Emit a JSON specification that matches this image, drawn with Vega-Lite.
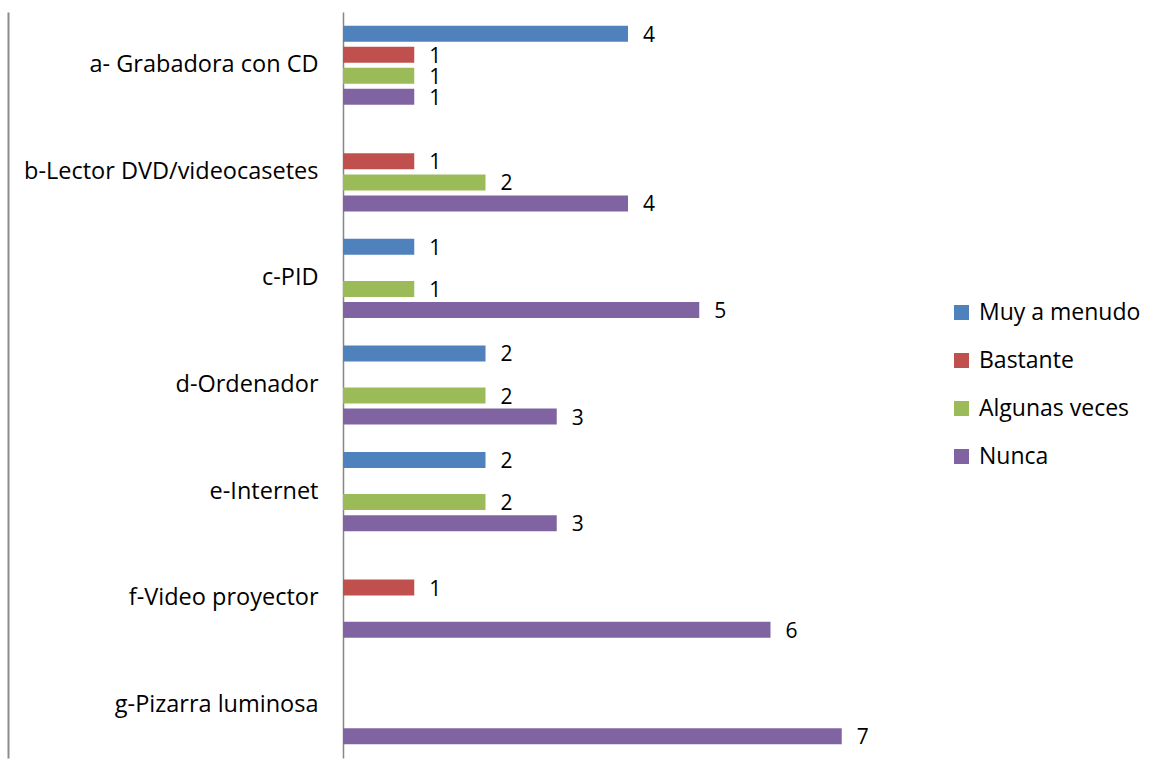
{
  "$schema": "https://vega.github.io/schema/vega-lite/v6.json",
  "autosize": "none",
  "padding": {"left": 343, "top": 12, "right": 251, "bottom": 23},
  "width": 570,
  "height": 746,
  "background": "white",
  "config": {
    "view": {"stroke": null},
    "font": "Open Sans"
  },
  "data": {
    "values": [
      {"item": "a- Grabadora con CD", "serie": "Muy a menudo", "valor": 4},
      {"item": "a- Grabadora con CD", "serie": "Bastante", "valor": 1},
      {"item": "a- Grabadora con CD", "serie": "Algunas veces", "valor": 1},
      {"item": "a- Grabadora con CD", "serie": "Nunca", "valor": 1},
      {"item": "b-Lector DVD/videocasetes", "serie": "Bastante", "valor": 1},
      {"item": "b-Lector DVD/videocasetes", "serie": "Algunas veces", "valor": 2},
      {"item": "b-Lector DVD/videocasetes", "serie": "Nunca", "valor": 4},
      {"item": "c-PID", "serie": "Muy a menudo", "valor": 1},
      {"item": "c-PID", "serie": "Algunas veces", "valor": 1},
      {"item": "c-PID", "serie": "Nunca", "valor": 5},
      {"item": "d-Ordenador", "serie": "Muy a menudo", "valor": 2},
      {"item": "d-Ordenador", "serie": "Algunas veces", "valor": 2},
      {"item": "d-Ordenador", "serie": "Nunca", "valor": 3},
      {"item": "e-Internet", "serie": "Muy a menudo", "valor": 2},
      {"item": "e-Internet", "serie": "Algunas veces", "valor": 2},
      {"item": "e-Internet", "serie": "Nunca", "valor": 3},
      {"item": "f-Video proyector", "serie": "Bastante", "valor": 1},
      {"item": "f-Video proyector", "serie": "Nunca", "valor": 6},
      {"item": "g-Pizarra luminosa", "serie": "Nunca", "valor": 7}
    ]
  },
  "encoding": {
    "y": {
      "field": "item",
      "type": "nominal",
      "sort": null,
      "scale": {"paddingInner": 0.21, "paddingOuter": 0.105}
    },
    "yOffset": {
      "field": "serie",
      "type": "nominal",
      "sort": ["Muy a menudo", "Bastante", "Algunas veces", "Nunca"],
      "scale": {"domain": ["Muy a menudo", "Bastante", "Algunas veces", "Nunca"], "paddingInner": 0.24, "paddingOuter": 0.12}
    },
    "x": {
      "field": "valor",
      "type": "quantitative",
      "scale": {"domain": [0, 8], "nice": false},
      "axis": null
    }
  },
  "resolve": {"axis": {"y": "independent"}},
  "layer": [
    {
      "mark": {"type": "bar"},
      "encoding": {
        "y": {
          "field": "item",
          "type": "nominal",
          "sort": null,
          "axis": {
            "title": null,
            "orient": "left",
            "ticks": false,
            "labelFontSize": 23.5,
            "labelColor": "#000000",
            "labelPadding": 25,
            "labelLimit": 400,
            "domainColor": "#868686",
            "domainWidth": 1.5
          }
        },
        "color": {
          "field": "serie",
          "type": "nominal",
          "scale": {
            "domain": ["Muy a menudo", "Bastante", "Algunas veces", "Nunca"],
            "range": ["#4F81BD", "#C0504D", "#9BBB59", "#8064A2"]
          },
          "legend": {
            "title": null,
            "orient": "none",
            "legendX": 607,
            "legendY": 289,
            "symbolType": "square",
            "symbolSize": 225,
            "symbolStrokeWidth": 0,
            "labelFontSize": 23,
            "labelLimit": 300,
            "labelColor": "#000000",
            "rowPadding": 24,
            "labelOffset": 6
          }
        }
      }
    },
    {
      "mark": {"type": "text", "align": "left", "baseline": "middle", "dx": 15, "dy": 2, "fontSize": 21, "color": "#000000"},
      "encoding": {
        "y": {
          "field": "item",
          "type": "nominal",
          "sort": null,
          "axis": {
            "title": null,
            "orient": "left",
            "offset": 335,
            "labels": false,
            "ticks": false,
            "domainColor": "#8C8C8C",
            "domainWidth": 2
          }
        },
        "text": {"field": "valor", "type": "quantitative"}
      }
    }
  ]
}
